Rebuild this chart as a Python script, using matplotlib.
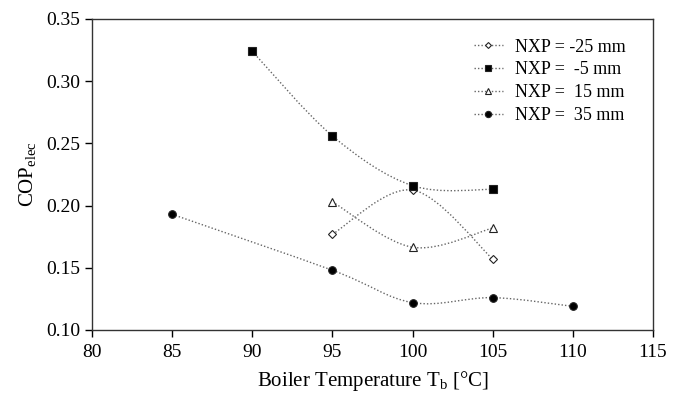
import numpy as np
import matplotlib.pyplot as plt
from matplotlib.path import Path
from matplotlib.patches import PathPatch
from matplotlib.lines import Line2D

plt.rcParams['font.family'] = ['Liberation Serif', 'DejaVu Serif']

# data
t_m25 = [95, 100, 105]
cop_m25 = [0.177, 0.2125, 0.157]
t_m5 = [90, 95, 100, 105]
cop_m5 = [0.324, 0.256, 0.216, 0.213]
t_15 = [95, 100, 105]
cop_15 = [0.203, 0.1665, 0.182]
t_35 = [85, 95, 100, 105, 110]
cop_35 = [0.193, 0.148, 0.122, 0.126, 0.119]

labels = ['NXP = -25 mm', 'NXP =  -5 mm', 'NXP =  15 mm', 'NXP =  35 mm']
markers = ['D', 's', '^', 'o']
fills = ['white', 'black', 'white', 'black']
msizes = [4, 5.5, 5.5, 5.5]


def smooth_path(x, y):
    # Catmull-Rom style bezier, similar to a spreadsheet "smoothed line"
    pts = np.column_stack([x, y]).astype(float)
    verts = [pts[0]]
    codes = [Path.MOVETO]
    n = len(pts)
    for i in range(n - 1):
        p0 = pts[i - 1] if i > 0 else pts[i]
        p1 = pts[i]
        p2 = pts[i + 1]
        p3 = pts[i + 2] if i + 2 < n else pts[i + 1]
        c1 = p1 + (p2 - p0) / 6.0
        c2 = p2 - (p3 - p1) / 6.0
        verts += [c1, c2, p2]
        codes += [Path.CURVE4] * 3
    return Path(verts, codes)


fig = plt.figure(figsize=(6.83, 3.95), dpi=100)
ax = fig.add_axes([0.1347, 0.1646, 0.8214, 0.7873])

series = [(t_m25, cop_m25), (t_m5, cop_m5), (t_15, cop_15), (t_35, cop_35)]
handles = []
for (x, y), lab, mk, fc, ms in zip(series, labels, markers, fills, msizes):
    patch = PathPatch(smooth_path(x, y), facecolor='none', edgecolor='#666666',
                      lw=1.0, linestyle=(0, (1, 1.5)), zorder=2)
    ax.add_patch(patch)
    ax.plot(x, y, linestyle='none', marker=mk, ms=ms, mfc=fc, mec='#222222',
            mew=0.8, zorder=3)
    handles.append(Line2D([], [], color='#666666', lw=1.0,
                          linestyle=(0, (1, 1.5)), marker=mk, ms=ms - 1,
                          mfc=fc, mec='#222222', mew=0.8))

ax.set_xlim(80, 115)
ax.set_ylim(0.10, 0.35)
ax.set_xticks(np.arange(80, 116, 5))
ax.set_yticks(np.arange(0.10, 0.351, 0.05))
ax.set_yticklabels(['%.2f' % v for v in np.arange(0.10, 0.351, 0.05)])
ax.tick_params(axis='both', direction='out', length=5, width=1,
               labelsize=14, top=False, right=False)
ax.tick_params(axis='x', pad=5)
for s in ax.spines.values():
    s.set_linewidth(1.0)
    s.set_color('#333333')

ax.set_xlabel(r'Boiler Temperature T$_\mathregular{b}$ [°C]', fontsize=15,
              labelpad=6)
ax.set_ylabel(r'COP$_\mathregular{elec}$', fontsize=15, labelpad=5)

ax.legend(handles, labels, loc='upper right', frameon=False, fontsize=13,
          handlelength=1.6, handletextpad=0.7, labelspacing=0.32,
          borderaxespad=0, bbox_to_anchor=(0.965, 0.96))

fig.savefig('out.png', dpi=100)
